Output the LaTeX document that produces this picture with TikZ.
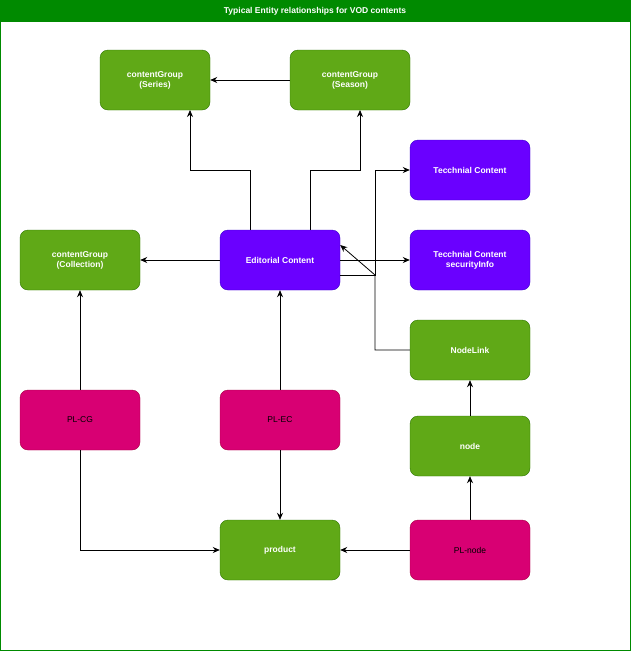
\documentclass[tikz,border=0pt]{standalone}
\usepackage{fontspec}
\setmainfont{Liberation Sans}
\usetikzlibrary{arrows.meta}
\definecolor{gf}{HTML}{60A917}\definecolor{gs}{HTML}{2D7600}
\definecolor{pf}{HTML}{6A00FF}\definecolor{ps}{HTML}{3700CC}
\definecolor{kf}{HTML}{D80073}\definecolor{ks}{HTML}{A50040}
\definecolor{tb}{HTML}{008A00}
\begin{document}
\begin{tikzpicture}[x=1pt,y=-1pt,
 box/.style={rounded corners=8pt,minimum width=120pt,minimum height=60pt,align=center,font=\fontsize{8.5}{10}\selectfont\bfseries,inner sep=0pt},
 g/.style={box,fill=gf,draw=gs,text=white},
 p/.style={box,fill=pf,draw=ps,text=white},
 k/.style={box,fill=kf,draw=ks,text=black,font=\fontsize{8.5}{10}\selectfont},
 ar/.style={-{Stealth[length=7pt,width=6pt]},line width=0.8pt}]
\useasboundingbox (0,0) rectangle (631,651);
\draw[tb,fill=white] (0.5,0.5) rectangle (630.5,650.5);
\fill[tb] (0,0) rectangle (631,22);
\node[text=white,font=\fontsize{8.5}{10}\selectfont\bfseries] (title) at (315,11) {Typical Entity relationships for VOD contents};
\node[g,minimum width=110pt] (ser) at (155,80) {contentGroup\\(Series)};
\node[g] (sea) at (350,80) {contentGroup\\(Season)};
\node[p] (tc) at (470,170) {Tecchnial Content};
\node[g] (col) at (80,260) {contentGroup\\(Collection)};
\node[p] (ed) at (280,260) {Editorial Content};
\node[p] (sec) at (470,260) {Tecchnial Content\\securityInfo};
\node[g] (nl) at (470,350) {NodeLink};
\node[k] (plcg) at (80,420) {PL-CG};
\node[k] (plec) at (280,420) {PL-EC};
\node[g] (nd) at (470,446) {node};
\node[g] (pr) at (280,550) {product};
\node[k] (pln) at (470,550) {PL-node};
\draw[ar] (sea.west) -- (ser.east);
\draw[ar] ([xshift=-30pt]ed.north) |- (190,170) -- (190,110);
\draw[ar] ([xshift=30pt]ed.north) |- (360,170) -- (360,110);
\draw[ar] ([yshift=-15pt]ed.east) -| (375,170) -- (tc.west);
\draw[ar] (ed.west) -- (col.east);
\draw[ar] (ed.east) -- (sec.west);
\draw[ar] (nl.west) -| (375,275) -- ([yshift=15pt]ed.east);
\draw[ar] (plcg.north) -- (col.south);
\draw[ar] (plec.north) -- (ed.south);
\draw[ar] (plec.south) -- (pr.north);
\draw[ar] (plcg.south) |- (pr.west);
\draw[ar] (pln.west) -- (pr.east);
\draw[ar] (pln.north) -- (nd.south);
\draw[ar] (nd.north) -- (nl.south);
\end{tikzpicture}
\end{document}
